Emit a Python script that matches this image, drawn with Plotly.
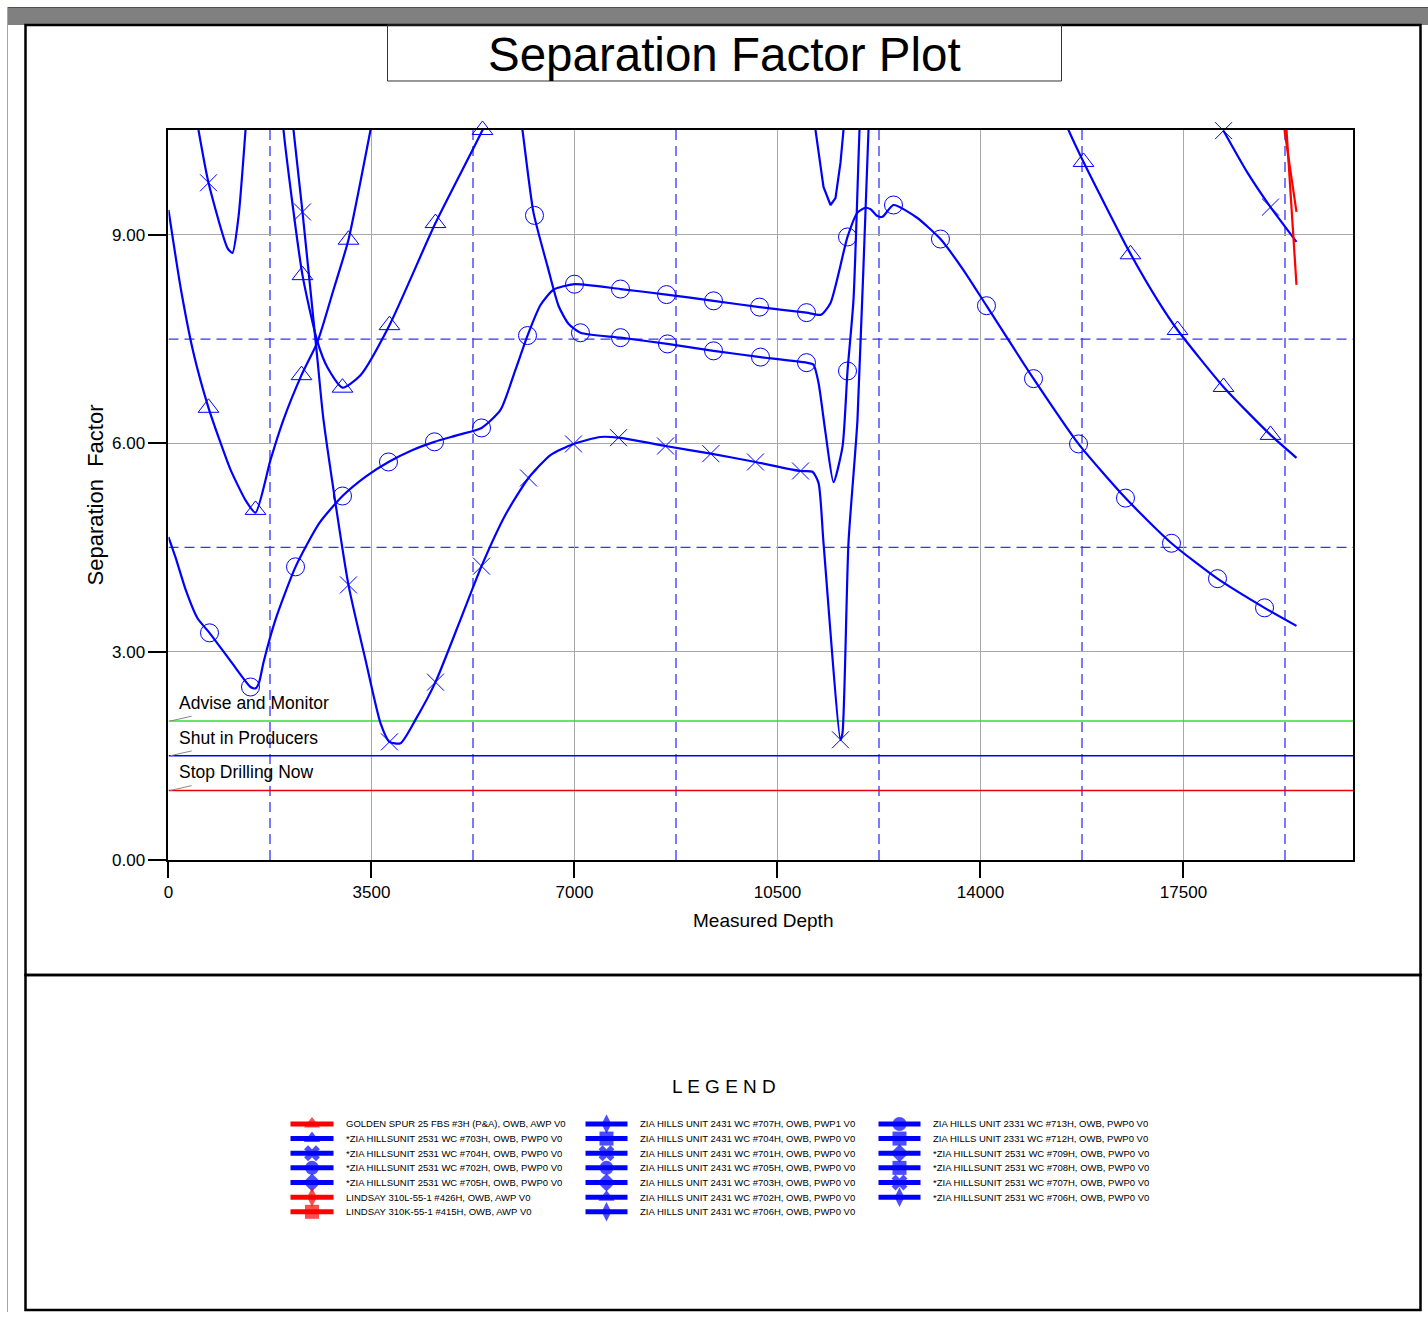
import plotly.graph_objects as go

W, H = 1428, 1322
FONT = "Liberation Sans, Arial, sans-serif"
BLUE = "#0000FF"

# render calibration (reference pixel -> layout pixel)
X_OFF, X_SC, Y_SC = 4.5, 0.9965, 0.9925
def lx(r):
    return (r - X_OFF) / X_SC
def ly(r):
    return r / Y_SC

# ---------------- data (Measured Depth, Separation Factor) ----------------
# circle well, lower-left through the big right-hand arc
a_md = [0, 120, 300, 500, 707, 1100, 1414, 1500, 1560, 1640, 1845, 2190, 2600, 3000, 3400, 3793, 4200, 4586,
        5000, 5397, 5724, 5983, 6190, 6414, 6638, 7000, 7793, 8586, 9397, 10190, 11000, 11250,
        11414, 11707, 11879, 12017, 12103, 12224, 12310, 12500, 12900, 13310, 13700, 14103,
        14914, 15690, 16500, 17293, 18086, 18897, 19448]
a_sf = [4.65, 4.36, 3.88, 3.48, 3.27, 2.83, 2.49, 2.47, 2.55, 2.85, 3.46, 4.22, 4.85, 5.24, 5.52, 5.73, 5.90, 6.02,
        6.12, 6.22, 6.48, 7.06, 7.55, 7.99, 8.21, 8.29, 8.22, 8.14, 8.05, 7.96, 7.88, 7.85,
        8.02, 8.97, 9.32, 9.39, 9.37, 9.27, 9.26, 9.43, 9.25, 8.94, 8.50, 7.98,
        6.93, 5.99, 5.21, 4.56, 4.05, 3.63, 3.37]
a_mk_md = [707, 1414, 2190, 3000, 3793, 4586, 5397, 6190, 7000, 7793, 8586, 9397, 10190, 11000,
           11707, 12500, 13310, 14103, 14914, 15690, 16500, 17293, 18086, 18897]
a_mk_sf = [3.27, 2.49, 4.22, 5.24, 5.73, 6.02, 6.22, 7.55, 8.29, 8.22, 8.14, 8.05, 7.96, 7.88,
           8.97, 9.43, 8.94, 7.98, 6.93, 5.99, 5.21, 4.56, 4.05, 3.63]

# circle well, middle lower branch with dip
b_md = [5990, 6103, 6293, 6534, 6724, 6896, 7103, 7793, 8603, 9397, 10207, 11000, 11121, 11207,
        11328, 11466, 11621, 11707, 11810, 11914, 11960]
b_sf = [11.2, 10.51, 9.32, 8.55, 7.98, 7.72, 7.59, 7.52, 7.43, 7.33, 7.24, 7.16, 7.13, 6.87,
        6.15, 5.44, 5.95, 7.04, 8.06, 10.51, 11.3]
b_mk_md = [6310, 7103, 7793, 8603, 9397, 10207, 11000, 11707]
b_mk_sf = [9.28, 7.59, 7.52, 7.43, 7.33, 7.24, 7.16, 7.04]

# cross well, steep descent, minimum, plateau and spike
c_md = [2069, 2155, 2310, 2569, 2672, 3103, 3397, 3655, 3810, 4000, 4259, 4603, 5034, 5397, 5810,
        6207, 6586, 6983, 7448, 7759, 8570, 9350, 10120, 10897, 11103, 11207, 11293, 11586,
        11621, 11724, 11879, 12069, 12121]
c_sf = [11.23, 10.51, 9.33, 7.20, 6.34, 3.96, 2.88, 1.97, 1.70, 1.68, 2.02, 2.56, 3.46, 4.23, 4.97,
        5.50, 5.83, 5.99, 6.09, 6.08, 5.96, 5.85, 5.73, 5.60, 5.59, 5.43, 4.57, 1.73,
        1.83, 4.57, 6.34, 10.51, 11.23]
c_mk_md = [2310, 3103, 3810, 4603, 5397, 6207, 6983, 7759, 8570, 9350, 10120, 10897, 11586]
c_mk_sf = [9.33, 3.96, 1.70, 2.56, 4.23, 5.50, 5.99, 6.08, 5.96, 5.85, 5.73, 5.60, 1.73]

# cross well, small V at top-left
d_md = [517, 690, 1017, 1103, 1207, 1328]
d_sf = [10.51, 9.75, 8.81, 8.74, 9.26, 10.51]
d_mk_md = [690]
d_mk_sf = [9.75]

# triangle well, left curve
e_md = [0, 207, 431, 690, 900, 1069, 1328, 1500, 1759, 1983, 2293, 2569, 2845, 3103, 3483, 3560]
e_sf = [9.36, 8.25, 7.30, 6.51, 6.00, 5.62, 5.18, 5.00, 5.76, 6.34, 6.98, 7.46, 8.21, 8.93, 10.51, 10.85]
e_mk_md = [690, 1500, 2293, 3103]
e_mk_sf = [6.51, 5.04, 6.98, 8.93]

# triangle well, U-shaped curve
f_md = [1930, 1983, 2310, 2569, 2741, 3000, 3310, 3810, 4603, 5414, 5480]
f_sf = [11.2, 10.51, 8.42, 7.46, 7.09, 6.80, 6.98, 7.70, 9.17, 10.51, 10.65]
f_mk_md = [2310, 3000, 3810, 4603, 5414]
f_mk_sf = [8.42, 6.80, 7.70, 9.17, 10.51]

# triangle well, right descending curve
g_md = [15400, 15517, 15776, 16552, 17052, 17397, 18190, 19000, 19448]
g_sf = [10.75, 10.51, 10.05, 8.78, 8.06, 7.63, 6.81, 6.12, 5.79]
g_mk_md = [15776, 16586, 17397, 18190, 19000]
g_mk_sf = [10.05, 8.72, 7.63, 6.81, 6.12]

# cross well, right short curve
h_md = [18190, 18600, 19000, 19448]
h_sf = [10.50, 9.90, 9.40, 8.90]
h_mk_md = [18190, 19000]
h_mk_sf = [10.50, 9.40]

# V near the top (no markers)
k_md = [11155, 11293, 11414, 11500, 11586, 11638]
k_sf = [10.51, 9.69, 9.43, 9.53, 10.04, 10.51]

# red wells
r1_md = [19241, 19448]
r1_sf = [10.51, 9.33]
r2_md = [19276, 19448]
r2_sf = [10.51, 8.28]

# threshold levels
levels = [2.0, 1.5, 1.0]
level_labels = ["Advise and Monitor", "Shut in Producers", "Stop Drilling Now"]
level_colors = ["#33DD33", "#0000FF", "#EE0000"]

x_ticks = [0, 3500, 7000, 10500, 14000, 17500]
y_ticks = [0, 3, 6, 9]
x_dash = [1750, 5250, 8750, 12250, 15750, 19250]
y_dash = [4.5, 7.5]
X_MAX, Y_MAX = 20431, 10.51

# legend
legend_cols = [
    ["GOLDEN SPUR 25 FBS #3H (P&A), OWB, AWP V0",
     "*ZIA HILLSUNIT 2531 WC #703H, OWB, PWP0 V0",
     "*ZIA HILLSUNIT 2531 WC #704H, OWB, PWP0 V0",
     "*ZIA HILLSUNIT 2531 WC #702H, OWB, PWP0 V0",
     "*ZIA HILLSUNIT 2531 WC #705H, OWB, PWP0 V0",
     "LINDSAY 310L-55-1 #426H, OWB, AWP V0",
     "LINDSAY 310K-55-1 #415H, OWB, AWP V0"],
    ["ZIA HILLS UNIT 2431 WC #707H, OWB, PWP1 V0",
     "ZIA HILLS UNIT 2431 WC #704H, OWB, PWP0 V0",
     "ZIA HILLS UNIT 2431 WC #701H, OWB, PWP0 V0",
     "ZIA HILLS UNIT 2431 WC #705H, OWB, PWP0 V0",
     "ZIA HILLS UNIT 2431 WC #703H, OWB, PWP0 V0",
     "ZIA HILLS UNIT 2431 WC #702H, OWB, PWP0 V0",
     "ZIA HILLS UNIT 2431 WC #706H, OWB, PWP0 V0"],
    ["ZIA HILLS UNIT 2331 WC #713H, OWB, PWP0 V0",
     "ZIA HILLS UNIT 2331 WC #712H, OWB, PWP0 V0",
     "*ZIA HILLSUNIT 2531 WC #709H, OWB, PWP0 V0",
     "*ZIA HILLSUNIT 2531 WC #708H, OWB, PWP0 V0",
     "*ZIA HILLSUNIT 2531 WC #707H, OWB, PWP0 V0",
     "*ZIA HILLSUNIT 2531 WC #706H, OWB, PWP0 V0"],
]
legend_syms = [
    ["triangle-up", "triangle-up", "x", "circle", "diamond", "diamond-tall", "square"],
    ["diamond-tall", "square", "x", "circle", "diamond", "triangle-up", "diamond-tall"],
    ["circle", "square", "diamond", "square", "x", "diamond-tall"],
]
legend_colors = [
    ["#FF0000", BLUE, BLUE, BLUE, BLUE, "#FF0000", "#FF0000"],
    [BLUE] * 7,
    [BLUE] * 6,
]

# ---------------- figure ----------------
fig = go.Figure()

def curve(md, sf, color=BLUE, width=2.2, spline=True):
    fig.add_trace(go.Scatter(x=md, y=sf, mode="lines", showlegend=False, hoverinfo="skip",
                             line=dict(color=color, width=width,
                                       shape="spline" if spline else "linear", smoothing=0.6)))

def marks(md, sf, symbol, size=17):
    fig.add_trace(go.Scatter(x=md, y=sf, mode="markers", showlegend=False, hoverinfo="skip",
                             cliponaxis=False,
                             marker=dict(symbol=symbol, size=size, color=BLUE,
                                         line=dict(color=BLUE, width=1))))

# threshold lines
for lv, col in zip(levels, level_colors):
    fig.add_trace(go.Scatter(x=[0, X_MAX], y=[lv, lv], mode="lines", showlegend=False,
                             hoverinfo="skip", line=dict(color=col, width=1.5)))

curve(a_md, a_sf); marks(a_mk_md, a_mk_sf, "circle-open", 18)
curve(b_md, b_sf); marks(b_mk_md, b_mk_sf, "circle-open", 18)
curve(c_md, c_sf); marks(c_mk_md, c_mk_sf, "x-thin-open", 17)
curve(d_md, d_sf); marks(d_mk_md, d_mk_sf, "x-thin-open", 17)
curve(e_md, e_sf); marks(e_mk_md, e_mk_sf, "triangle-up-open", 18)
curve(f_md, f_sf); marks(f_mk_md, f_mk_sf, "triangle-up-open", 18)
curve(g_md, g_sf); marks(g_mk_md, g_mk_sf, "triangle-up-open", 18)
curve(h_md, h_sf); marks(h_mk_md, h_mk_sf, "x-thin-open", 17)
curve(k_md, k_sf, spline=False)
curve(r1_md, r1_sf, color="#FF0000", width=2.2, spline=False)
curve(r2_md, r2_sf, color="#FF0000", width=2.2, spline=False)

shapes = []
# dashed reference lines
for xv in x_dash:
    shapes.append(dict(type="line", xref="x", yref="y", x0=xv, x1=xv, y0=0, y1=Y_MAX,
                       line=dict(color="#3333FF", width=1.3, dash="10px,6px"), layer="below"))
for yv in y_dash:
    shapes.append(dict(type="line", xref="x", yref="y", x0=0, x1=X_MAX, y0=yv, y1=yv,
                       line=dict(color="#3333FF", width=1.3, dash="10px,6px"), layer="below"))
# leader ticks for level labels
for lv in levels:
    shapes.append(dict(type="line", xref="x", yref="y", x0=30, x1=400, y0=lv, y1=lv + 0.07,
                       line=dict(color="#888888", width=1)))

# page furniture (reference-pixel coordinates on overlay axes)
shapes += [
    dict(type="rect", xref="x2", yref="y2", x0=7, x1=1432, y0=8, y1=25,
         fillcolor="#808080", line=dict(width=0), layer="below"),
    dict(type="line", xref="x2", yref="y2", x0=7, x1=1432, y0=7.5, y1=7.5,
         line=dict(color="#4444AA", width=1)),
    dict(type="line", xref="x2", yref="y2", x0=7, x1=7, y0=8, y1=1322,
         line=dict(color="#9999FF", width=1)),
    dict(type="rect", xref="x2", yref="y2", x0=25, x1=1420, y0=25, y1=975,
         line=dict(color="black", width=2.5)),
    dict(type="rect", xref="x2", yref="y2", x0=25, x1=1420, y0=975, y1=1310,
         line=dict(color="black", width=2.5)),
    dict(type="rect", xref="x2", yref="y2", x0=387, x1=1061, y0=25, y1=81,
         line=dict(color="#333333", width=1)),
]

annotations = [
    dict(xref="x2", yref="y2", x=724, y=54, text="Separation Factor Plot", showarrow=False,
         font=dict(family=FONT, size=47.5, color="black"), xanchor="center", yanchor="middle"),
    dict(xref="x2", yref="y2", x=95, y=495, text="Separation  Factor", showarrow=False,
         textangle=-90, font=dict(family=FONT, size=22, color="black"),
         xanchor="center", yanchor="middle"),
    dict(xref="x2", yref="y2", x=762, y=921, text="Measured Depth", showarrow=False,
         font=dict(family=FONT, size=19, color="black"),
         xanchor="center", yanchor="middle"),
    dict(xref="x2", yref="y2", x=723, y=1087, text="L E G E N D", showarrow=False,
         font=dict(family=FONT, size=19, color="black"), xanchor="center", yanchor="middle"),
]
for lv, lab in zip(levels, level_labels):
    annotations.append(dict(xref="x", yref="y", x=150, y=lv + 0.26, text=lab, showarrow=False,
                            xanchor="left", yanchor="middle",
                            font=dict(family=FONT, size=17.5, color="black")))

# legend glyphs and labels
col_x = [(290, 333, 343), (585, 627, 637), (878, 920, 930)]
row_y0, row_dy = 1124, 14.65
for ci, (labels, syms, cols) in enumerate(zip(legend_cols, legend_syms, legend_colors)):
    x0, x1, xt = col_x[ci]
    for ri, (lab, sym, col) in enumerate(zip(labels, syms, cols)):
        yy = row_y0 + ri * row_dy
        fig.add_trace(go.Scatter(x=[x0, (x0 + x1) / 2, x1], y=[yy, yy, yy], xaxis="x2", yaxis="y2",
                                 mode="lines+markers", showlegend=False, hoverinfo="skip",
                                 line=dict(color=col, width=5),
                                 marker=dict(symbol=sym, size=[0, 14, 0], color=col,
                                             line=dict(width=0))))
        annotations.append(dict(xref="x2", yref="y2", x=xt, y=yy, text=lab, showarrow=False,
                                xanchor="left", yanchor="middle",
                                font=dict(family=FONT, size=9.5, color="black")))

fig.update_layout(
    width=W, height=H,
    margin=dict(l=0, r=0, t=0, b=0),
    paper_bgcolor="white",
    plot_bgcolor="rgba(0,0,0,0)",
    showlegend=False,
    shapes=shapes,
    annotations=annotations,
    xaxis=dict(domain=[lx(168) / W, lx(1353) / W], range=[0, X_MAX], tickvals=x_ticks,
               ticktext=[str(v) for v in x_ticks], ticks="outside", ticklen=16, tickwidth=2,
               tickcolor="black", showgrid=True, gridcolor="#A8A8A8", gridwidth=1,
               zeroline=False, showline=True, mirror=True, linecolor="black", linewidth=2,
               tickfont=dict(family=FONT, size=17, color="black"), anchor="y", fixedrange=True),
    yaxis=dict(domain=[(H - ly(860)) / H, (H - ly(130)) / H], range=[0, Y_MAX], tickvals=y_ticks,
               ticktext=["%.2f" % v for v in y_ticks], ticks="outside", ticklen=18, tickwidth=2,
               tickcolor="black", showgrid=True, gridcolor="#A8A8A8", gridwidth=1,
               zeroline=False, showline=True, mirror=True, linecolor="black", linewidth=2,
               tickfont=dict(family=FONT, size=17, color="black"), anchor="x", fixedrange=True),
    xaxis2=dict(domain=[0, 1], range=[X_OFF, X_OFF + X_SC * W], visible=False, anchor="y2",
                fixedrange=True),
    yaxis2=dict(domain=[0, 1], range=[Y_SC * H, 0], visible=False, anchor="x2", fixedrange=True),
)

fig.write_html("out.html")
